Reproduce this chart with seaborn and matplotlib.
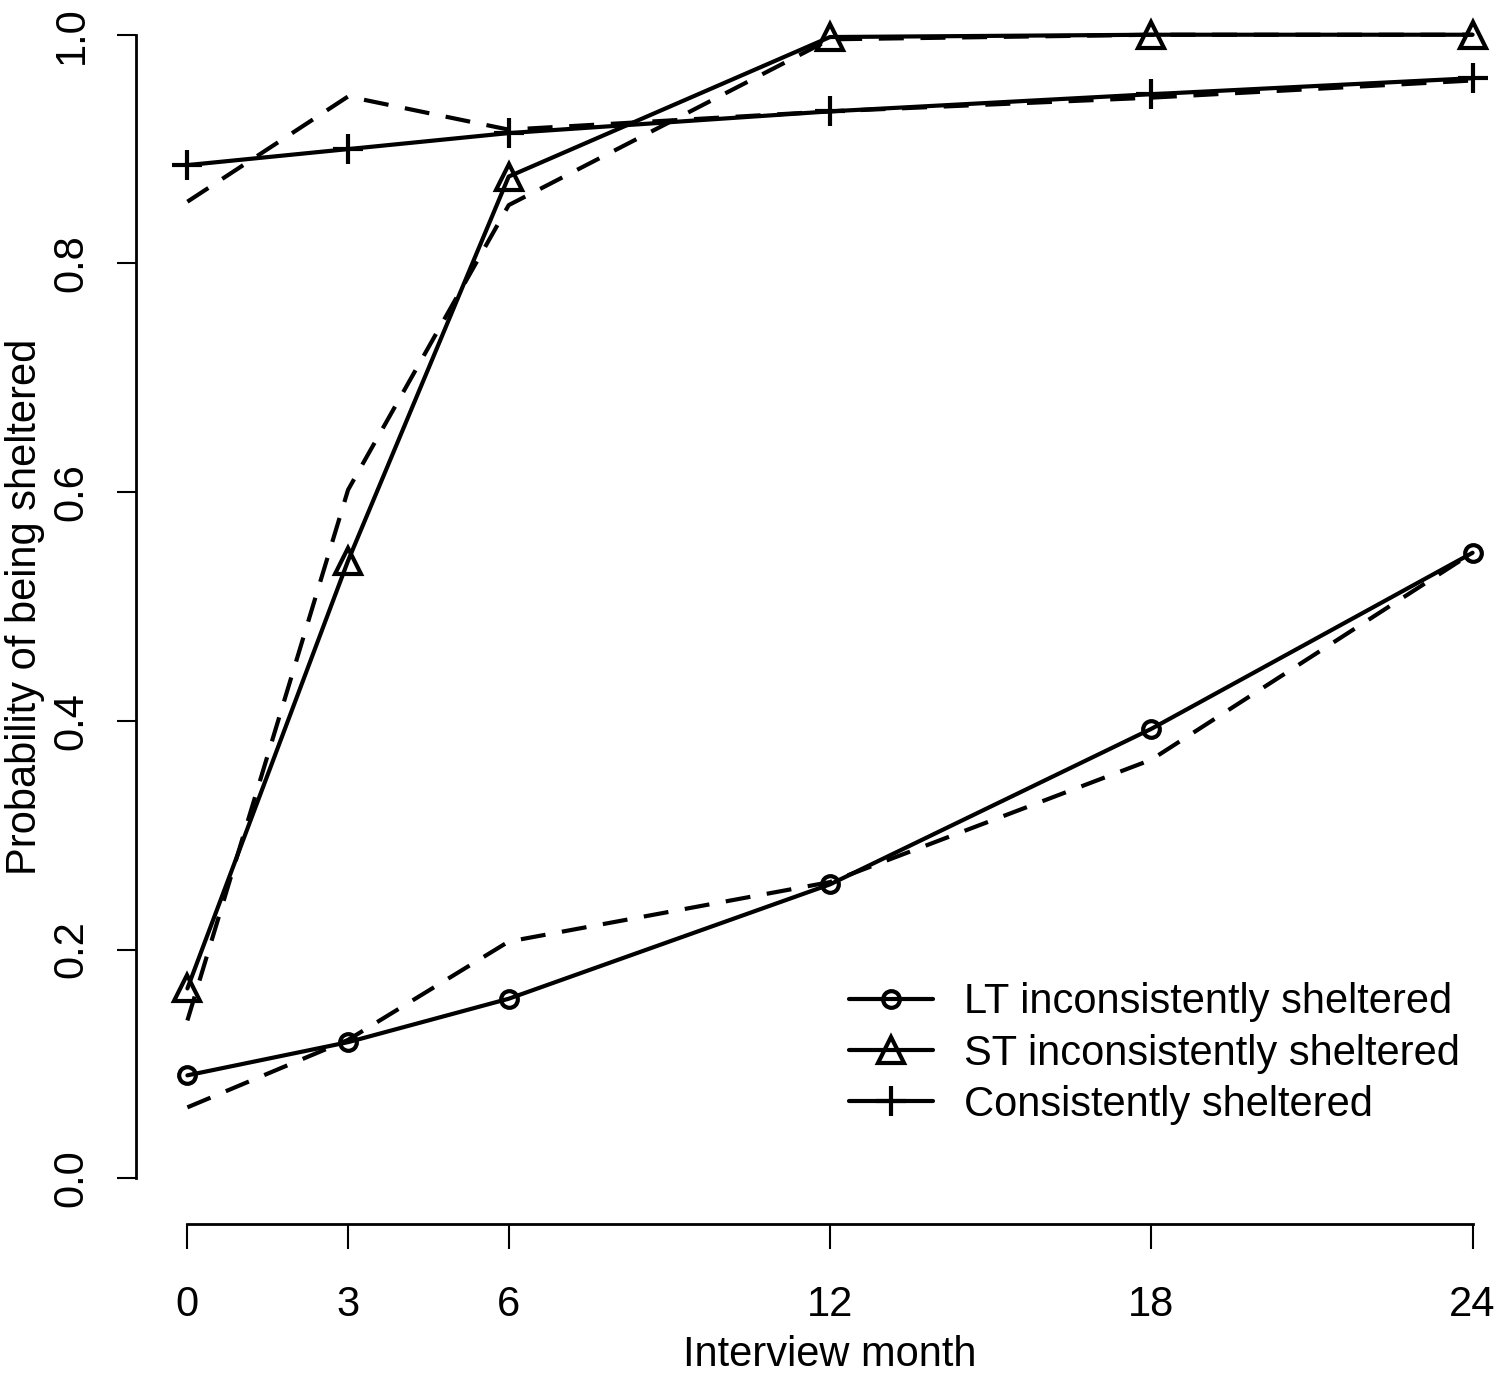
import pandas as pd
import matplotlib
matplotlib.use('Agg')
import matplotlib.pyplot as plt
import seaborn as sns

# interview months
months = [0, 3, 6, 12, 18, 24]

# observed proportions (solid lines with markers)
lt_obs = [0.090, 0.119, 0.157, 0.257, 0.393, 0.547]
st_obs = [0.166, 0.540, 0.876, 0.998, 1.000, 1.000]
cons_obs = [0.886, 0.900, 0.914, 0.933, 0.948, 0.962]

# fitted probabilities (dashed lines)
lt_fit = [0.062, 0.121, 0.207, 0.259, 0.366, 0.547]
st_fit = [0.138, 0.602, 0.851, 0.996, 1.000, 1.000]
cons_fit = [0.854, 0.946, 0.917, 0.933, 0.945, 0.960]

group_names = ['LT inconsistently sheltered', 'ST inconsistently sheltered', 'Consistently sheltered']
group_markers = ['o', '^', '+']
marker_sizes = [12, 19, 21]

y_ticks = [0.0, 0.2, 0.4, 0.6, 0.8, 1.0]
y_tick_labels = ['0.0', '0.2', '0.4', '0.6', '0.8', '1.0']

sns.set_style('ticks')
plt.rcParams['font.family'] = ['Liberation Sans', 'DejaVu Sans']
plt.rcParams['text.color'] = 'black'
plt.rcParams['axes.labelcolor'] = 'black'
plt.rcParams['xtick.color'] = 'black'
plt.rcParams['ytick.color'] = 'black'

fig = plt.figure(figsize=(15, 13.79), dpi=100)
ax = fig.add_axes([136 / 1500, 1 - 1224 / 1379, 1388 / 1500, 1235 / 1379])

obs_list = [lt_obs, st_obs, cons_obs]
fit_list = [lt_fit, st_fit, cons_fit]

for name, obs, fit, mk, ms in zip(group_names, obs_list, fit_list, group_markers, marker_sizes):
    df_fit = pd.DataFrame({'month': months, 'prob': fit})
    sns.lineplot(data=df_fit, x='month', y='prob', ax=ax, color='black',
                 linewidth=3, linestyle=(0, (6, 4)), legend=False)
    df_obs = pd.DataFrame({'month': months, 'prob': obs})
    sns.lineplot(data=df_obs, x='month', y='prob', ax=ax, color='black',
                 linewidth=3, marker=mk, markersize=ms, markerfacecolor='none',
                 markeredgecolor='black', markeredgewidth=3, label=name)

for s in ['top', 'right']:
    ax.spines[s].set_visible(False)
ax.spines['left'].set_bounds(0, 1)
ax.spines['bottom'].set_bounds(0, 24)
for s in ['left', 'bottom']:
    ax.spines[s].set_linewidth(2)
    ax.spines[s].set_color('black')

ax.set_xlim(-0.96, 24.96)
ax.set_ylim(-0.04, 1.04)
ax.set_xticks(months)
ax.set_xticklabels([str(m) for m in months], fontsize=30)
ax.set_yticks(y_ticks)
ax.set_yticklabels(y_tick_labels, fontsize=30, rotation=90, va='center')
ax.tick_params(axis='x', length=18, width=1.5, pad=26)
ax.tick_params(axis='y', length=14, width=1.5, pad=18)

ax.set_xlabel('Interview month', fontsize=30, labelpad=7)
ax.set_ylabel('Probability of being sheltered', fontsize=30, labelpad=5)

leg = ax.legend(loc='lower left', bbox_to_anchor=(0.487, 0.05), frameon=False,
                fontsize=30, handlelength=2.0, handletextpad=0.75, labelspacing=0.27)

fig.savefig('out.png', dpi=100, facecolor='white')
